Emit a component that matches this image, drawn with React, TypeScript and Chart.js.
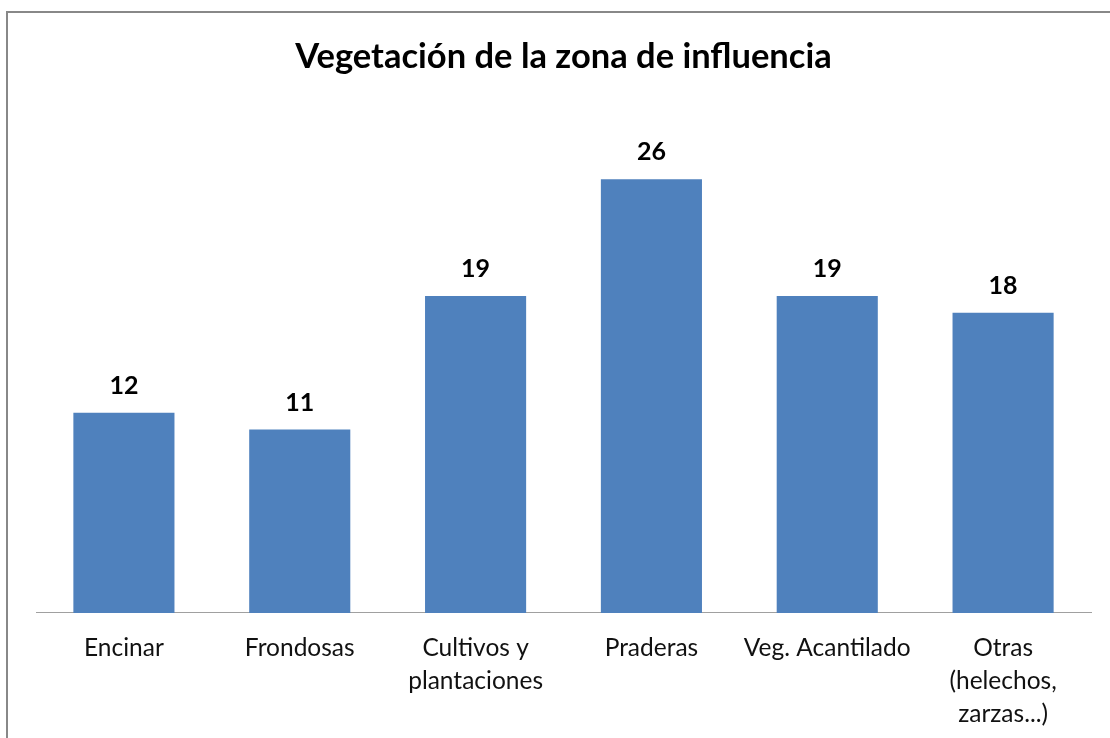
import React, { useEffect, useRef } from "react";
import { Chart, registerables } from "chart.js";

Chart.register(...registerables);

const TITLE = "Vegetación de la zona de influencia";
const categories: (string | string[])[] = [
  "Encinar",
  "Frondosas",
  ["Cultivos y", "plantaciones"],
  "Praderas",
  "Veg. Acantilado",
  ["Otras", "(helechos,", "zarzas...)"],
];
const values: number[] = [12, 11, 19, 26, 19, 18];
const Y_MAX = 30;

const FONT = "Lato, 'Open Sans', 'DejaVu Sans', sans-serif";

const valueLabels = {
  id: "valueLabels",
  afterDatasetsDraw(chart: any) {
    const ctx = chart.ctx;
    const meta = chart.getDatasetMeta(0);
    ctx.save();
    ctx.font = `bold 25px ${FONT}`;
    ctx.fillStyle = "#000";
    ctx.textAlign = "center";
    ctx.textBaseline = "middle";
    meta.data.forEach((bar: any, i: number) => {
      ctx.fillText(String(values[i]), bar.x, bar.y - 27);
    });
    ctx.restore();
  },
};

export default function App() {
  const ref = useRef<HTMLCanvasElement | null>(null);
  useEffect(() => {
    if (!ref.current) return;
    const chart = new Chart(ref.current, {
      type: "bar",
      data: {
        labels: categories,
        datasets: [
          {
            data: values,
            backgroundColor: "#4f81bd",
            barPercentage: 0.575,
            categoryPercentage: 1,
          },
        ],
      },
      options: {
        animation: false,
        responsive: false,
        layout: { padding: { left: 36, right: 19, top: 0, bottom: -12 } },
        plugins: {
          legend: { display: false },
          tooltip: { enabled: false },
          title: {
            display: true,
            text: TITLE,
            color: "#000",
            font: { family: FONT, size: 34.5, weight: "bold", lineHeight: 1.2 },
            padding: { top: 36.3, bottom: 34.8 },
          },
        },
        scales: {
          x: {
            grid: { display: false, drawTicks: false, tickLength: 0 },
            border: { display: true, color: "#a0a0a0", width: 1 },
            ticks: {
              color: "#111",
              padding: 19,
              maxRotation: 0,
              autoSkip: false,
              font: { family: FONT, size: 24.5, lineHeight: 1.347 },
            },
          },
          y: {
            display: false,
            min: 0,
            max: Y_MAX,
          },
        },
      },
      plugins: [valueLabels],
    });
    return () => chart.destroy();
  }, []);

  return (
    <div style={{ position: "fixed", left: 0, top: 0, width: 1110, height: 738, background: "#fff", overflow: "hidden" }}>
      <div
        style={{
          position: "absolute",
          left: 6,
          top: 11,
          width: 1200,
          height: 800,
          borderLeft: "2px solid #888",
          borderTop: "2px solid #888",
        }}
      />
      <canvas ref={ref} width={1110} height={738} style={{ position: "absolute", left: 0, top: 0 }} />
    </div>
  );
}
